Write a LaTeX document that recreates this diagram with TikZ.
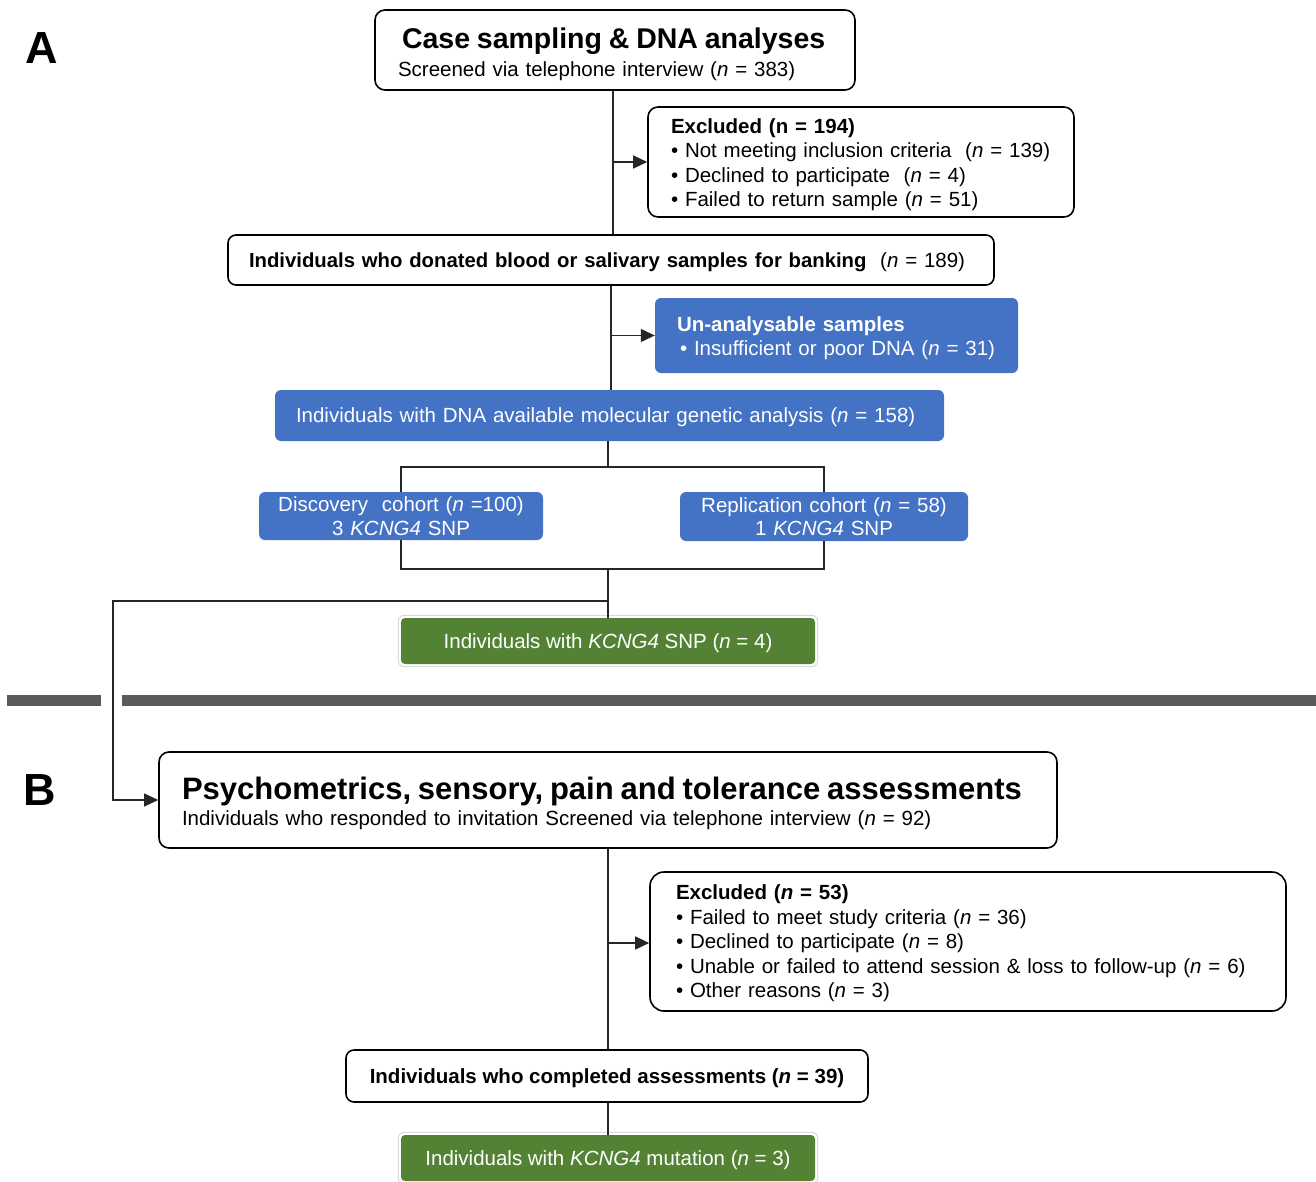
\documentclass[tikz,border=0pt]{standalone}
\usepackage{fontspec}
\setmainfont{Liberation Sans}
\usetikzlibrary{arrows.meta,calc}
\definecolor{blueF}{HTML}{4472C4}
\definecolor{greenF}{HTML}{548235}
\definecolor{sepG}{HTML}{5A5A5A}
\newcommand{\fsz}{\fontsize{20.5}{24.5}\selectfont}
\begin{document}
\begin{tikzpicture}[x=1pt,y=-1pt,font=\fsz,
  wbox/.style={draw=black, line width=1.6pt, rounded corners=10pt, fill=white, inner ysep=0pt},
  bbox/.style={fill=blueF, rounded corners=6pt, text=white, inner ysep=0pt},
  gbox/.style={fill=greenF, rounded corners=4pt, text=white, inner ysep=0pt},
  conn/.style={line width=1.2pt, draw=black!85},
  arr/.style={conn, -{Triangle[length=14pt,width=13pt]}},
  glow/.style={draw=black!15, line width=1pt, rounded corners=6pt},
  sep/.style={fill=sepG, draw=none},
  letter/.style={font=\fontsize{45}{50}\selectfont\bfseries}
]
\useasboundingbox (0,0) rectangle (1316,1182);

% letters
\node[letter] (lA) at (42,48) {A};
\node[letter] (lB) at (40,790) {B};

% panel A
\node[wbox, minimum width=480pt, minimum height=80pt, text width=434pt, inner xsep=23pt, align=left, text height=28.8pt] (b1) at (615,50)
 {\hspace*{4pt}{\fontsize{28.5}{30}\selectfont\bfseries Case sampling \& DNA analyses}\\[3pt]
  Screened via telephone interview (\textit{n} = 383)};

\node[wbox, minimum width=426pt, minimum height=110pt, text width=380pt, inner xsep=23pt, align=left, text height=20pt] (ex1) at (861,162)
 {\textbf{Excluded (n = 194)}\\
  • Not meeting inclusion criteria~~(\textit{n} = 139)\\
  • Declined to participate~~(\textit{n} = 4)\\
  • Failed to return sample (\textit{n} = 51)};

\node[wbox, rounded corners=8pt, minimum width=766pt, minimum height=50pt, text width=724pt, inner xsep=21pt, align=left, text depth=-1.7pt] (b2) at (611,260)
 {\textbf{\fontsize{20.3}{24}\selectfont Individuals who donated blood or salivary samples for banking}~~(\textit{n} = 189)};

\node[bbox, minimum width=363pt, minimum height=75pt, text width=319pt, inner xsep=22pt, align=left, text height=20pt] (un1) at (836.5,335.5)
 {\textbf{Un-analysable samples}\\
  \hspace*{3pt}• Insufficient or poor DNA (\textit{n} = 31)};

\node[bbox, minimum width=669pt, minimum height=51pt, text width=627pt, inner xsep=21pt, align=left, text depth=-1.7pt] (b3) at (609.5,415.5)
 {Individuals with DNA available molecular genetic analysis (\textit{n} = 158)};

\node[bbox, minimum width=284pt, minimum height=48pt, text width=270pt, inner xsep=7pt, align=center] (disc) at (401,516)
 {Discovery~~cohort (\textit{n} =100)\\[-1pt] 3 \textit{KCNG4} SNP};

\node[bbox, minimum width=288pt, minimum height=49pt, text width=274pt, inner xsep=7pt, align=center] (repl) at (824,516.5)
 {Replication cohort (\textit{n} = 58)\\[-1pt] 1 \textit{KCNG4} SNP};

\node[gbox, minimum width=414pt, minimum height=46pt, inner xsep=0pt, text depth=0.3pt] (g1) at (608,641)
 {Individuals with \textit{KCNG4} SNP (\textit{n} = 4)};
\draw[glow] ([xshift=-2.5pt,yshift=2.5pt]g1.north west) rectangle ([xshift=2.5pt,yshift=-2.5pt]g1.south east);

% separator
\fill[sep] (7,695) rectangle (101,706);
\fill[sep] (122,695) rectangle (1316,706);

% panel B
\node[wbox, minimum width=898pt, minimum height=96pt, text width=852pt, inner xsep=23pt, align=left, text height=29.6pt] (bB) at (608,800)
 {{\fontsize{31}{33}\selectfont\bfseries Psychometrics, sensory, pain and tolerance assessments}\\[1pt]
  Individuals who responded to invitation Screened via telephone interview (\textit{n} = 92)};

\node[wbox, rounded corners=14pt, minimum width=636pt, minimum height=139pt, text width=584pt, inner xsep=26pt, align=left, text height=19pt] (exB) at (968,941.5)
 {\textbf{Excluded (\textit{n} = 53)}\\
  • Failed to meet study criteria (\textit{n} = 36)\\
  • Declined to participate (\textit{n} = 8)\\
  • Unable or failed to attend session \& loss to follow-up (\textit{n} = 6)\\
  • Other reasons (\textit{n} = 3)};

\node[wbox, rounded corners=8pt, minimum width=522pt, minimum height=52pt, inner xsep=0pt, text depth=0.3pt] (b4) at (607,1076)
 {\textbf{Individuals who completed assessments (\textit{n} = 39)}};

\node[gbox, minimum width=414pt, minimum height=46pt, inner xsep=0pt, text depth=-6pt] (g2) at (608,1158)
 {Individuals with \textit{KCNG4} mutation (\textit{n} = 3)};
\draw[glow] ([xshift=-2.5pt,yshift=2.5pt]g2.north west) rectangle ([xshift=2.5pt,yshift=-2.5pt]g2.south east);

% connector coordinates
\coordinate (sp1) at (613,0);
\coordinate (sp2) at (611,0);
\coordinate (brtop) at (608,467);
\coordinate (brbot) at (608,569);
\coordinate (jn) at (608,601);
\coordinate (lft) at (113,601);
\coordinate (sp4) at (608,0);

% connectors panel A
\draw[conn] (b1.south -| sp1) -- (b2.north -| sp1);
\draw[arr] (sp1 |- ex1.west) -- (ex1.west);
\draw[conn] (b2.south -| sp2) -- (b3.north -| sp2);
\draw[arr] (sp2 |- un1.west) -- (un1.west);
\draw[conn] (b3.south -| brtop) -- (brtop);
\draw[conn] (disc.north) |- (brtop) -| (repl.north);
\draw[conn] (disc.south) |- (brbot) -| (repl.south);
\draw[conn] (brbot) -- (g1.north -| brbot);
\draw[arr] (jn) -- (lft) |- (bB.west);

% connectors panel B
\draw[conn] (bB.south -| sp4) -- (b4.north -| sp4);
\draw[arr] (sp4 |- 0,943) -- (exB.west |- 0,943);
\draw[conn] (b4.south -| sp4) -- (g2.north -| sp4);
\end{tikzpicture}
\end{document}
